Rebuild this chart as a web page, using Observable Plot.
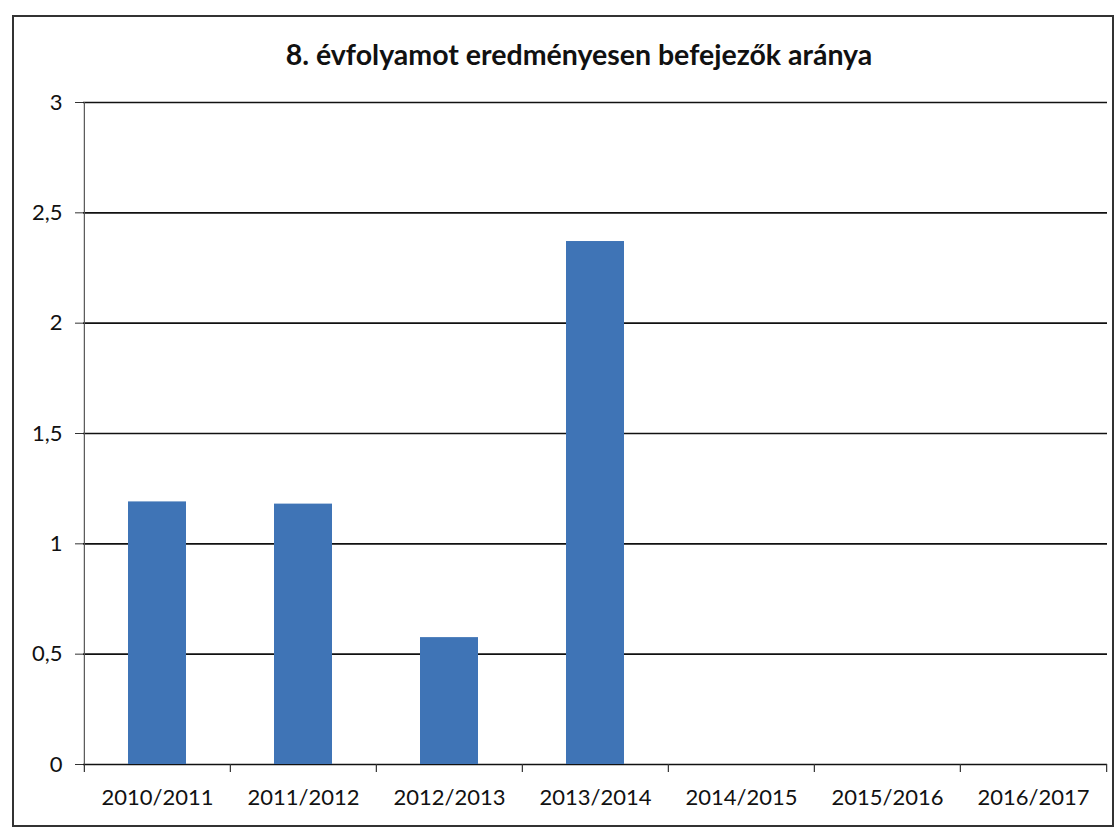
<!DOCTYPE html>
<html>
<head>
<meta charset="utf-8">
<script src="https://cdn.jsdelivr.net/npm/d3@7"></script>
<script src="https://cdn.jsdelivr.net/npm/@observablehq/plot@0.6"></script>
<style>
  html, body { margin: 0; padding: 0; background: #fff; width: 1120px; height: 828px; overflow: hidden; }
  #box { position: absolute; left: 12px; top: 15px; width: 1098px; height: 808px; border: 2px solid #333; box-sizing: content-box; }
  #title { position: absolute; left: 16px; width: 100%; top: 20px; text-align: center; font-family: Lato, "Open Sans", sans-serif; font-weight: bold; font-size: 28.5px; color: #111; }
  #chart { position: absolute; left: 0; top: 0; }
</style>
</head>
<body>
<div id="box">
  <div id="title">8. évfolyamot eredményesen befejezők aránya</div>
  <div id="chart"></div>
</div>
<script>
const categories = ["2010/2011", "2011/2012", "2012/2013", "2013/2014", "2014/2015", "2015/2016", "2016/2017"];
const values = [1.19, 1.18, 0.575, 2.37, null, null, null];
const yTicks = [0, 0.5, 1, 1.5, 2, 2.5, 3];

const data = categories.map((c, i) => ({cat: c, v: values[i]}));
const barData = data.filter(d => d.v != null);

const W = 1098, H = 808;
const mL = 69, mR = 5, mT = 85, mB = 61;
const step = (W - mL - mR) / categories.length;
const fmt = d => String(d).replace(".", ",");

const chart = Plot.plot({
  width: W,
  height: H,
  marginLeft: mL,
  marginRight: mR,
  marginTop: mT,
  marginBottom: mB,
  style: {fontFamily: "Lato, 'Open Sans', sans-serif", background: "transparent", color: "#111", fontSize: "22px"},
  x: {domain: categories, paddingInner: 0.6, paddingOuter: 0.3, label: null},
  y: {domain: [0, 3], label: null},
  marks: [
    Plot.ruleY(yTicks, {stroke: "#111", strokeWidth: 1.6}),
    Plot.ruleX([categories[0]], {dx: -step / 2, y1: 0, y2: 3, stroke: "#555", strokeWidth: 1.2}),
    Plot.barY(barData, {x: "cat", y: "v", fill: "#3f74b6"}),
    Plot.ruleX(categories, {dx: -step / 2, y1: 0, y2: 0, insetBottom: -8, stroke: "#333", strokeWidth: 1.2}),
    Plot.ruleX([categories[categories.length - 1]], {dx: step / 2, y1: 0, y2: 0, insetBottom: -8, stroke: "#333", strokeWidth: 1.2}),
    Plot.axisY(yTicks, {tickSize: 8, tickPadding: 13, tickFormat: fmt, fontSize: 22, stroke: "#333", label: null}),
    Plot.axisX(categories, {tickSize: 0, tickPadding: 25, fontSize: 22, label: null})
  ]
});
document.getElementById("chart").appendChild(chart);
</script>
</body>
</html>
